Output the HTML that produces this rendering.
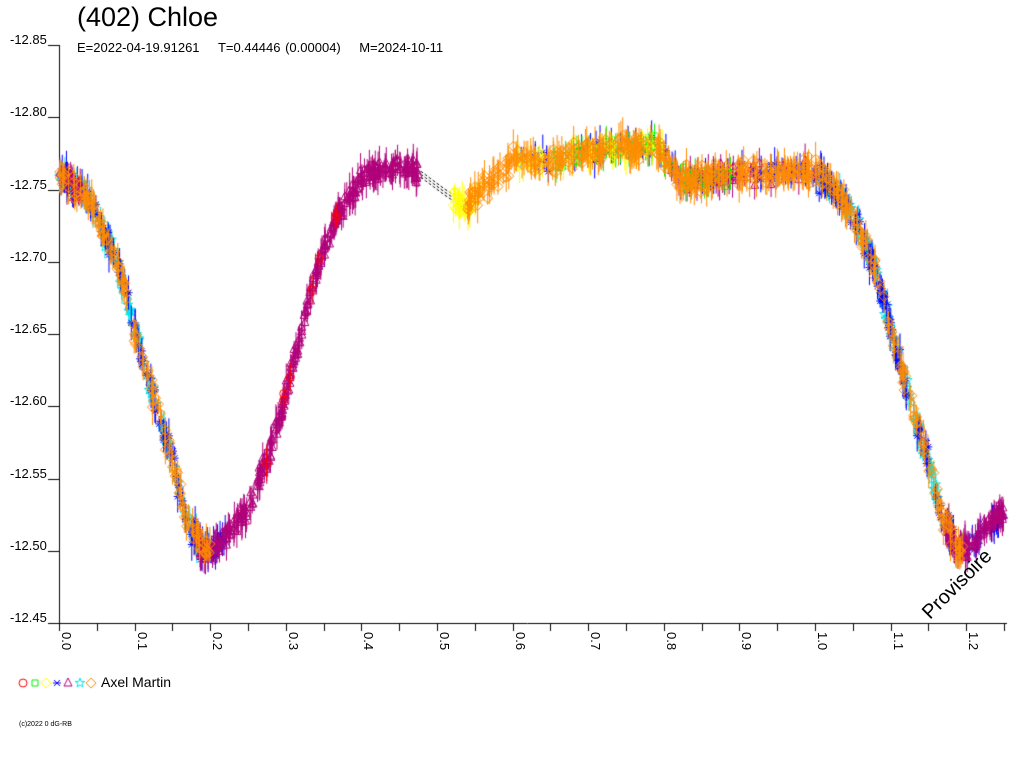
<!DOCTYPE html>
<html><head><meta charset="utf-8"><style>
html,body{margin:0;padding:0;background:#fff;width:1024px;height:768px;overflow:hidden}
#c{position:absolute;left:0;top:0}
.t{position:absolute;font-family:"Liberation Sans",sans-serif;color:#000;white-space:nowrap}
</style></head><body>
<canvas id="c" width="1024" height="768"></canvas>
<div class="t" style="left:77px;top:2px;font-size:27px">(402) Chloe</div>
<div class="t" style="left:77px;top:40px;font-size:13px;word-spacing:1px">E=2022-04-19.91261&nbsp;&nbsp;&nbsp;&nbsp;T=0.44446 (0.00004)&nbsp;&nbsp;&nbsp;&nbsp;M=2024-10-11</div>
<div class="t" style="left:101px;top:674px;font-size:14px">Axel Martin</div>
<div class="t" style="left:19px;top:721px;font-size:7px">(c)2022 0 dG-RB</div>
<div class="t" style="left:918px;top:608px;font-size:20px;transform:rotate(-45deg);transform-origin:0 0">Provisoire</div>
<div id="lab"></div>
<script>
var c=document.getElementById('c'),g=c.getContext('2d');
var lab=document.getElementById('lab');
function X(p){return 59+p*756;}
var ys=["-12.85","-12.80","-12.75","-12.70","-12.65","-12.60","-12.55","-12.50","-12.45"];
for(var i=0;i<9;i++){var y=45+i*72.25;
 var d=document.createElement('div');d.className='t';d.style.left='10px';d.style.top=(y-13)+'px';d.style.fontSize='13px';d.textContent=ys[i];lab.appendChild(d);}
g.strokeStyle='#000';g.lineWidth=1;
g.beginPath();g.moveTo(59.5,45);g.lineTo(59.5,623);g.stroke();
g.beginPath();g.moveTo(48,623.5);g.lineTo(1007,623.5);g.stroke();
for(var i=0;i<9;i++){var y=Math.round(45+i*72.25)+0.5;g.beginPath();g.moveTo(48,y);g.lineTo(59,y);g.stroke();}
for(var k=0;k<=25;k++){var x=Math.round(X(k*0.05))+0.5;g.beginPath();g.moveTo(x,623);g.lineTo(x,631);g.stroke();
 if(k%2==0){var d=document.createElement('div');d.className='t';d.style.left=(x+14)+'px';d.style.top='632px';d.style.fontSize='13px';d.style.transform='rotate(90deg)';d.style.transformOrigin='0 0';d.textContent=(k/20).toFixed(1);lab.appendChild(d);}}
var K=[[0,172],[0.03,192],[0.05,215],[0.08,270],[0.1,330],[0.13,410],[0.15,462],[0.17,520],[0.19,550],[0.21,545],[0.25,508],[0.28,450],[0.3,395],[0.33,300],[0.35,250],[0.37,212],[0.4,178],[0.45,165],[0.48,175],[0.51,192],[0.54,207],[0.57,180],[0.6,162],[0.65,160],[0.7,152],[0.75,148],[0.79,146],[0.82,180],[0.86,178],[0.9,173],[0.95,172],[1.0,170],[1.0001,172]];
function cy(p){p=p%1;if(p<0)p+=1;for(var i=0;i<K.length-1;i++){if(p>=K[i][0]&&p<=K[i+1][0]){var t=(p-K[i][0])/(K[i+1][0]-K[i][0]);return K[i][1]+t*(K[i+1][1]-K[i][1]);}}return 172;}
var s=12345;function r(){s=(s*16807)%2147483647;return s/2147483647;}
function gr(){return (r()+r()+r()-1.5)*1.4;}
var C={red:'#ff0000',grn:'#00ee00',yel:'#ffff00',blu:'#0000ff',mag:'#b0007a',cya:'#00e5ee',org:'#ff8c00'};
function shape(x,y,col,sh){g.strokeStyle=col;g.lineWidth=1;g.beginPath();
 if(sh=='tri'){g.moveTo(x,y-5);g.lineTo(x+4,y+3);g.lineTo(x-4,y+3);g.closePath();}
 else if(sh=='dia'){g.moveTo(x,y-5);g.lineTo(x+5,y);g.lineTo(x,y+5);g.lineTo(x-5,y);g.closePath();}
 else if(sh=='sq'){g.rect(x-3,y-3,6,6);}
 else if(sh=='circ'){g.arc(x,y,4,0,7);}
 else if(sh=='star'){for(var a=0;a<10;a++){var rr=a%2?2:5,an=a*Math.PI/5-Math.PI/2;g.lineTo(x+rr*Math.cos(an),y+rr*Math.sin(an));}g.closePath();}
 else {g.moveTo(x-4,y);g.lineTo(x+4,y);g.moveTo(x-3,y-3);g.lineTo(x+3,y+3);g.moveTo(x+3,y-3);g.lineTo(x-3,y+3);}
 g.stroke();}
function mk(x,y,col,sh){g.strokeStyle=col;var e=6+r()*12;
 g.beginPath();g.moveTo(x,y-e);g.lineTo(x,y+e);g.stroke();shape(x,y,col,sh);}
function band(p0,p1,n,col,sh,sc){for(var i=0;i<n;i++){var p=p0+r()*(p1-p0);if(p>1.25)continue;mk(X(p),cy(p)+gr()*(sc||7),col,sh);}}
g.strokeStyle='#000';g.setLineDash([3,2]);
for(var o=-3;o<=3;o+=3){g.beginPath();for(var p=0.46;p<=0.56;p+=0.005){var x=X(p),y=cy(p)+o;p==0.46?g.moveTo(x,y):g.lineTo(x,y);}g.stroke();}
g.setLineDash([]);
band(0,0.2,100,C.cya,'star');band(1.0,1.2,100,C.cya,'star');
band(0,0.22,110,C.blu,'x',9);band(1.0,1.25,130,C.blu,'x',9);band(0.6,1.0,70,C.blu,'x');
band(0.18,0.48,330,C.mag,'tri',7);band(1.17,1.25,80,C.mag,'tri');band(0.8,1.0,50,C.mag,'tri');band(0,0.03,20,C.mag,'tri');
band(0.27,0.37,8,C.red,'circ');
band(0.65,0.9,55,C.grn,'sq');
band(0.52,0.56,30,C.yel,'dia');band(0.6,0.8,45,C.yel,'dia');
band(0,0.2,130,C.org,'dia',8);band(0.54,1.0,330,C.org,'dia',9);band(1.0,1.2,130,C.org,'dia',8);
shape(23,683,C.red,'circ');shape(35,683,C.grn,'sq');shape(46,683,C.yel,'dia');shape(57,683,C.blu,'x');shape(68,683,C.mag,'tri');shape(80,683,C.cya,'star');shape(91,683,C.org,'dia');
</script>
</body></html>
